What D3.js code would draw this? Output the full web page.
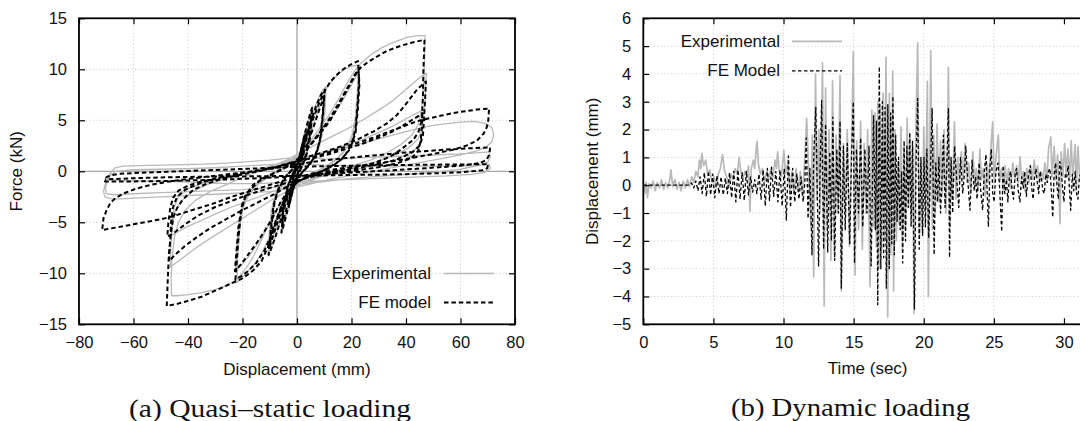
<!DOCTYPE html>
<html><head><meta charset="utf-8">
<script src="https://cdn.jsdelivr.net/npm/d3@7"></script>
<style>body{margin:0;background:#fff}svg{display:block}</style>
</head><body>
<svg id="c" width="1080" height="421"></svg>
<script>
// ---------- DATA ----------
const xTicksA = [-80,-60,-40,-20,0,20,40,60,80];
const yTicksA = [-15,-10,-5,0,5,10,15];
const xTicksB = [0,5,10,15,20,25,30];
const yTicksB = [-5,-4,-3,-2,-1,0,1,2,3,4,5,6];

// Quasi-static loading: FE model (displacement mm, force kN)
const feStage1 = [[0,0],[1.5,2.2],[3,3.6],[2.4,2.0],[1,0.4],[-0.5,-0.9],[-2,-2.4],[-3,-3.5],[-2.4,-2.0],[-1,-0.3],[0.5,1.0],[2,2.6],[3,3.5],[2.3,1.8],[0.8,0.3],[-0.8,-1.1],[-2.2,-2.6],[-3,-3.4],[-2.3,-1.9],[-0.8,-0.2]];
const feStage2 = [[0.5,1.0],[2,2.7],[3.5,4.4],[5,5.8],[5.6,6.3],[4.8,3.8],[3.5,1.8],[2,0.6],[0.5,-0.3],[-1,-1.3],[-2.5,-2.8],[-4,-4.4],[-5.2,-5.6],[-5.7,-6.0],[-5,-3.7],[-3.6,-1.7],[-2,-0.5],[-0.5,0.3],[1,1.3],[2.5,2.6],[4,4.0],[5.5,5.6],[4.8,3.3],[3.3,1.4],[1.5,0.3],[0,-0.4],[-1.5,-1.4],[-3,-2.8],[-4.5,-4.3],[-5.5,-5.4],[-4.8,-3.2],[-3.2,-1.3],[-1.5,-0.2]];
const feStage3 = [[0,0.6],[1.5,1.6],[3,3.0],[5,4.8],[7,6.4],[8.8,7.5],[10.2,8.0],[9.5,5.5],[8.6,3.2],[7,1.6],[4.5,0.6],[2,-0.1],[0,-0.7],[-2,-1.6],[-4,-3.0],[-6,-4.8],[-8,-6.5],[-9.5,-7.6],[-10.4,-8.2],[-9.6,-5.6],[-8.6,-3.3],[-7,-1.8],[-4.5,-0.6],[-2,0.1],[0,0.7],[2,1.6],[4,2.8],[6,4.3],[8,5.9],[9.5,7.0],[10,7.4],[9.2,5.0],[8.3,2.9],[6.5,1.4],[4,0.5],[1.5,-0.2],[-0.5,-0.8],[-2.5,-1.7],[-4.5,-3.0],[-6.5,-4.5],[-8.5,-6.1],[-10,-7.4],[-9.2,-5.0],[-8.2,-3.0],[-6.5,-1.6],[-4,-0.5],[-1.5,0.2]];
const feStage4 = [[0.5,0.9],[2,2.0],[4,3.6],[6,5.2],[8,6.6],[10,7.8],[12,8.7],[14,9.3],[16,9.8],[18,10.2],[20,10.5],[22.4,10.8],[22.8,9.0],[22.2,6.5],[21.5,4.2],[20,2.6],[17,1.3],[13,0.5],[9,0],[5,-0.4],[2,-0.8],[0,-1.1],[-2,-1.6],[-4,-2.4],[-6,-3.6],[-8,-5.0],[-10,-6.6],[-12,-7.8],[-15,-9.0],[-18,-9.8],[-20.5,-10.3],[-22.6,-10.6],[-22.3,-9.6],[-21.5,-6.5],[-20.5,-4.0],[-19,-2.4],[-16,-1.3],[-12,-0.6],[-8,-0.1],[-4,0.4],[-1,0.9],[1,1.4],[3,2.0],[6,2.9],[9,3.9],[12,4.9],[15,6.3],[18,7.8],[20.5,9.0],[22.6,10.0],[22.9,8.5],[22.3,6.0],[21.5,3.8],[19.5,2.2],[16,1.1],[12,0.4],[8,-0.1],[4,-0.5],[1,-0.9],[-1,-1.2],[-3,-1.8],[-6,-3.0],[-9,-4.6],[-12,-5.9],[-15,-7.1],[-18,-8.2],[-20.5,-9.1],[-22.8,-9.8],[-22.4,-8.5],[-21.5,-5.5],[-20.2,-3.3],[-18,-2.0],[-14,-1.0],[-10,-0.4],[-6,0.1],[-3,0.5],[-1,0.8]];
const feStage5 = [[1,1.2],[3,1.9],[6,3.0],[10,4.4],[13,5.6],[16,7.0],[19,8.4],[21.5,9.6],[23.5,10.2],[26,10.7],[29,11.2],[33,11.8],[38,12.3],[42,12.6],[46.8,12.9],[46.4,10],[46.2,7.2],[45.8,5.0],[44.5,3.8],[42.7,3.1],[38,2.1],[34,1.4],[28,0.8],[22,0.45],[16,0.1],[10,-0.2],[5,-0.5],[1,-0.9],[-2,-1.6],[-5,-3.0],[-8,-5.2],[-10.5,-7.3],[-13,-8.8],[-16,-9.7],[-20,-10.5],[-25,-11.1],[-30,-11.7],[-35,-12.3],[-40,-12.7],[-44,-13.0],[-47.8,-13.2],[-47.4,-10.5],[-47,-8.0],[-46.2,-6.0],[-45.5,-4.6],[-44,-3.6],[-42,-2.8],[-38,-1.8],[-33,-1.2],[-27,-0.7],[-20,-0.3],[-14,0],[-8,0.4],[-3,0.8],[0,1.0],[5,1.5],[10,1.9],[15.7,2.4],[22,3.1],[28,3.9],[33,4.7],[36.6,5.5],[40,6.6],[44,8.0],[47.3,8.8],[47,7.0],[46.6,5.0],[46.2,3.5],[45,2.5],[42,1.8],[36,1.1],[30,0.7],[22,0.3],[15,0],[8,-0.3],[2,-0.8],[-3,-1.4],[-8,-2.2],[-14,-3.0],[-20,-3.8],[-26,-4.7],[-32,-5.6],[-37,-6.5],[-41,-7.3],[-44,-8.0],[-47,-8.8],[-46.6,-7.0],[-46.2,-5.0],[-45.5,-3.5],[-44,-2.5],[-41,-1.8],[-35,-1.1],[-28,-0.6],[-20,-0.2],[-12,0.2],[-5,0.6],[0,1.0],[6,1.3],[12,1.7],[18,2.2],[24,2.7],[30,3.3],[35,3.9],[39,4.5],[42,5.0],[44.5,5.4],[46,5.7],[45.8,4.3],[45.4,3.0],[44.5,2.0],[42,1.3],[37,0.8],[30,0.4],[22,0.1],[14,-0.2],[6,-0.5],[0,-0.9],[-6,-1.3],[-12,-1.8],[-18,-2.3],[-24,-2.9],[-30,-3.5],[-36,-4.3],[-40,-5.0],[-43,-5.6],[-45.5,-6.1],[-47.6,-6.4],[-47.2,-5.0],[-46.5,-3.6],[-45.5,-2.6],[-43.5,-1.9],[-40,-1.4],[-35,-1.0],[-28,-0.6],[-20,-0.2],[-12,0.2],[-5,0.6],[0,0.9]];
const feStage6 = [[5,1.3],[12,1.9],[20,2.6],[28,3.3],[35,4.0],[40,4.5],[44,4.9],[47,5.1],[52,5.4],[57,5.7],[62,5.9],[66,6.05],[70.5,6.15],[70.2,5.0],[69.6,4.3],[68.5,3.7],[66,3.0],[62,2.5],[57,2.1],[50,1.7],[44,1.4],[38,1.1],[30,0.8],[22,0.5],[14,0.2],[6,-0.2],[0,-0.6],[-6,-1.0],[-12,-1.5],[-18,-2.0],[-24,-2.5],[-30,-3.1],[-36,-3.6],[-42,-4.1],[-46,-4.45],[-50,-4.7],[-55,-4.95],[-60,-5.2],[-65,-5.45],[-71.5,-5.75],[-71,-4.6],[-70,-3.9],[-68.5,-3.1],[-66.5,-2.6],[-63,-2.1],[-59,-1.7],[-54,-1.35],[-47,-1.0],[-40,-0.75],[-32,-0.5],[-24,-0.25],[-16,0],[-8,0.3],[0,0.7],[8,1.0],[16,1.25],[24,1.45],[32,1.65],[40,1.85],[48,2.0],[56,2.15],[63,2.25],[70.9,2.35],[70.5,1.6],[69.5,1.1],[67,0.8],[62,0.6],[55,0.45],[47,0.3],[38,0.15],[28,0],[18,-0.15],[8,-0.3],[0,-0.45],[-8,-0.6],[-16,-0.7],[-24,-0.78],[-32,-0.85],[-40,-0.9],[-48,-0.95],[-56,-0.98],[-63,-1.0],[-70.5,-1.0],[-70,-0.6],[-68.5,-0.4],[-65,-0.25],[-58,-0.15],[-48,-0.05],[-38,0.05],[-28,0.15],[-18,0.25],[-8,0.35],[0,0.45],[10,0.5],[20,0.55],[30,0.6],[40,0.62],[50,0.65],[60,0.67],[70.2,0.7],[69.8,0.3],[68,0.1],[60,-0.1],[50,-0.2],[40,-0.28],[30,-0.33],[20,-0.36],[10,-0.4],[0,-0.45],[-10,-0.48],[-20,-0.5],[-30,-0.52],[-40,-0.55],[-50,-0.6],[-60,-0.68],[-70.5,-0.8]];

// Quasi-static loading: Experimental
const expStage1 = [[0,0],[1.2,1.9],[2.8,3.8],[2.2,2.2],[0.8,0.6],[-0.8,-1.2],[-2.2,-2.6],[-2.9,-3.7],[-2.2,-2.0],[-0.8,-0.4],[0.8,1.3],[2.2,2.9],[3,3.8],[2.2,1.9],[0.6,0.3],[-1,-1.4],[-2.4,-2.9],[-3,-3.6],[-2.2,-1.8],[-0.6,-0.1]];
const expStage2 = [[0.8,1.3],[2.4,3.0],[4,4.8],[5.3,6.0],[5.8,6.4],[5.2,4.0],[4,2.2],[2.4,0.9],[0.8,-0.1],[-0.8,-1.1],[-2.4,-2.6],[-4,-4.2],[-5.3,-5.6],[-5.8,-6.1],[-5.2,-3.9],[-4,-2.0],[-2.4,-0.7],[-0.8,0.3],[0.8,1.4],[2.4,2.8],[4,4.3],[5.6,5.8],[5,3.5],[3.6,1.6],[1.8,0.4],[0.2,-0.4],[-1.4,-1.5],[-3,-3.0],[-4.6,-4.5],[-5.6,-5.6],[-5,-3.4],[-3.4,-1.5],[-1.6,-0.3]];
const expStage3 = [[0.2,0.8],[1.8,1.9],[3.4,3.3],[5.2,5.0],[7,6.6],[8.8,7.7],[10.6,8.3],[10.3,6.0],[9.6,4.0],[8,2.2],[5.5,1.0],[3,0.3],[0.5,-0.5],[-1.8,-1.5],[-3.8,-2.9],[-6,-4.8],[-8,-6.5],[-9.8,-7.8],[-10.6,-8.3],[-10.2,-6.0],[-9.4,-3.8],[-7.8,-2.1],[-5.2,-0.8],[-2.5,0.1],[0,0.8],[2,1.8],[4,3.0],[6,4.5],[8,6.1],[9.8,7.3],[10.4,7.6],[9.8,5.2],[8.8,3.2],[7,1.8],[4.5,0.7],[2,0],[-0.5,-0.7],[-2.6,-1.7],[-4.6,-3.1],[-6.6,-4.7],[-8.6,-6.3],[-10.3,-7.5],[-9.8,-5.2],[-8.8,-3.2],[-7,-1.8],[-4.4,-0.6],[-1.8,0.3]];
const expStage4 = [[0.6,1.2],[2.5,2.3],[4.5,3.9],[6.5,5.6],[8.5,7.0],[10.8,8.1],[13,8.9],[15.5,9.6],[18,10.1],[20,10.3],[22.3,10.4],[22.2,8.0],[21.5,5.5],[20.3,3.6],[18,2.2],[14,1.1],[10,0.4],[6,-0.1],[2.5,-0.6],[0,-1.1],[-2.5,-1.8],[-5,-3.0],[-7.5,-4.6],[-10,-6.4],[-12.5,-7.8],[-15,-8.9],[-18,-9.8],[-20.5,-10.5],[-22,-10.9],[-21.8,-8.6],[-21,-5.6],[-19.8,-3.6],[-17.5,-2.2],[-13.5,-1.1],[-9.5,-0.4],[-5.5,0.2],[-2,0.9],[1,1.6],[4,2.5],[7,3.4],[10,4.4],[13,5.4],[16,6.6],[19,8.0],[21.5,9.2],[22.7,9.6],[22.4,7.4],[21.6,5.0],[20.2,3.2],[17,1.8],[13,0.8],[9,0.2],[5,-0.3],[1.5,-0.9],[-1.5,-1.5],[-4.5,-2.5],[-8,-4.0],[-11,-5.5],[-14,-6.9],[-17,-8.1],[-20,-9.1],[-22.5,-9.8],[-22.2,-7.6],[-21.3,-5.0],[-19.8,-3.1],[-17,-1.9],[-13,-0.9],[-8.5,-0.1],[-4,0.7],[-1,1.3]];
const expStage5 = [[2,1.9],[5,3.0],[8.5,4.3],[12,5.6],[15.5,7.2],[18.5,8.7],[21,9.8],[23.5,10.6],[27,11.4],[31,12.1],[35,12.6],[40,13.1],[44,13.3],[47,13.3],[46.8,11.0],[46.5,8.5],[45.8,6.2],[44.5,4.6],[42,3.5],[38,2.6],[33,1.8],[27,1.1],[20,0.5],[13,0],[7,-0.5],[2,-1.2],[-2,-1.9],[-6,-3.2],[-10,-5.0],[-13.5,-7.0],[-16.5,-8.6],[-19.5,-9.8],[-22,-10.6],[-25,-11.1],[-30,-11.6],[-35,-11.9],[-40,-12.1],[-44,-12.2],[-46,-12.2],[-46.2,-10.5],[-45.8,-8.5],[-45,-6.5],[-43.5,-5.0],[-41,-3.8],[-37,-2.8],[-32,-2.0],[-26,-1.3],[-20,-0.6],[-14,0],[-8,0.6],[-3,1.2],[1,1.8],[6,2.5],[12,3.3],[18,4.1],[24,5.0],[30,6.0],[35,6.9],[39,7.8],[42.5,8.6],[45.5,9.3],[47.5,9.6],[47.2,7.8],[46.8,6.0],[46,4.3],[44.5,3.2],[41,2.3],[36,1.6],[30,1.0],[23,0.5],[16,0],[9,-0.5],[3,-1.1],[-2,-1.7],[-8,-2.6],[-14,-3.6],[-20,-4.6],[-26,-5.6],[-32,-6.6],[-37,-7.5],[-41,-8.3],[-44,-8.9],[-46.5,-9.4],[-46.3,-7.5],[-45.8,-5.5],[-44.8,-4.0],[-42.5,-2.9],[-38.5,-2.0],[-33,-1.3],[-26,-0.7],[-18,-0.1],[-10,0.5],[-3,1.1],[3,1.4],[10,1.9],[17,2.5],[24,3.1],[30,3.8],[35,4.4],[39,5.0],[42.5,5.5],[45.5,5.9],[46.3,5.0],[46,3.8],[45,2.7],[42.5,1.9],[37,1.2],[30,0.7],[22,0.2],[14,-0.2],[6,-0.7],[0,-1.2],[-6,-1.7],[-12,-2.3],[-18,-2.9],[-24,-3.5],[-30,-4.2],[-35,-4.8],[-40,-5.4],[-43.5,-5.9],[-46,-6.3],[-45.8,-4.9],[-45,-3.5],[-43.5,-2.5],[-40,-1.7],[-34,-1.1],[-27,-0.6],[-19,-0.1],[-11,0.4],[-4,0.9]];
const expStage6 = [[2,1.3],[10,1.8],[18,2.3],[26,2.9],[33,3.4],[40,3.9],[46,4.3],[51,4.55],[56,4.7],[61,4.85],[65,4.9],[69,4.7],[71.5,4.3],[72.2,3.6],[71.5,2.9],[69.5,2.4],[66,2.0],[60,1.6],[52,1.2],[44,0.8],[36,0.4],[28,0],[20,-0.4],[12,-0.8],[4,-1.3],[-3,-1.7],[-10,-2.0],[-18,-2.1],[-26,-2.2],[-34,-2.3],[-42,-2.4],[-50,-2.5],[-58,-2.6],[-64,-2.7],[-68,-2.7],[-70.5,-2.5],[-71,-2.0],[-70.5,-1.4],[-69.5,-0.8],[-68.5,-0.2],[-67,0.3],[-64,0.5],[-58,0.55],[-50,0.6],[-42,0.65],[-34,0.7],[-26,0.8],[-18,0.95],[-10,1.1],[-3,1.3],[3,1.5],[10,1.2],[20,1.3],[30,1.4],[40,1.5],[50,1.6],[60,1.7],[66,1.8],[70.5,1.9],[71,1.4],[70,0.9],[67,0.6],[60,0.2],[50,-0.1],[40,-0.3],[30,-0.5],[20,-0.7],[10,-1.0],[0,-1.3],[-10,-1.6],[-20,-1.8],[-30,-1.9],[-40,-2.0],[-50,-2.1],[-60,-2.2],[-67,-2.3],[-70,-2.2],[-70.3,-1.6],[-69.5,-0.9],[-68.5,-0.4],[-66.5,0],[-60,0.15],[-50,0.2],[-40,0.25],[-30,0.35],[-20,0.5],[-10,0.65],[0,0.8],[10,0.6],[20,0.55],[30,0.5],[40,0.5],[50,0.5],[60,0.5],[66,0.6],[70.5,0.7],[71,0.3],[69,-0.1],[64,-0.3],[55,-0.45],[45,-0.55],[35,-0.65],[25,-0.75],[15,-0.85],[5,-1.0],[-5,-1.1],[-15,-1.2],[-25,-1.2],[-35,-1.1],[-45,-1.0],[-55,-0.95],[-65,-0.9],[-70,-0.8]];

// Dynamic loading: [time s, displacement mm]
const expDynamic = [[0,0],[0.1,-0.3],[0.2,0.1],[0.3,-0.45],[0.4,0.05],[0.55,-0.1],[0.7,0.15],[0.85,-0.2],[1.0,0.1],[1.15,-0.1],[1.3,0.2],[1.45,-0.15],[1.6,0.1],[1.75,-0.1],[1.9,0.25],[1.97,0.55],[2.1,-0.05],[2.25,0.2],[2.4,-0.15],[2.55,0.1],[2.7,-0.2],[2.85,0.15],[3.0,-0.1],[3.15,0.2],[3.3,-0.05],[3.45,0.3],[3.6,0.1],[3.75,0.5],[3.9,0.3],[4.0,0.9],[4.1,0.6],[4.17,1.15],[4.3,0.7],[4.45,0.9],[4.6,0.4],[4.75,0.55],[4.9,0.1],[5.05,0.3],[5.2,-0.1],[5.35,0.4],[5.5,0.6],[5.65,1.1],[5.8,0.5],[5.95,0.3],[6.1,-0.1],[6.25,0.4],[6.4,0.2],[6.55,0.6],[6.7,0.4],[6.83,1.0],[6.95,0.5],[7.1,0.2],[7.25,0.5],[7.4,0.3],[7.5,0.7],[7.61,-0.94],[7.7,0.6],[7.85,0.9],[7.95,0.6],[8.05,1.3],[8.11,1.58],[8.2,0.8],[8.35,0.4],[8.5,0.6],[8.65,0.1],[8.8,0.5],[8.95,0.2],[9.1,0.6],[9.25,0.3],[9.4,0.9],[9.5,0.6],[9.58,1.2],[9.7,0.5],[9.85,0.3],[10.02,1.25],[10.15,0.4],[10.3,0.8],[10.45,-0.2],[10.6,0.5],[10.75,-0.3],[10.9,0.6],[11.05,-0.2],[11.2,0.5],[11.35,-0.4],[11.5,0.8],[11.65,2.4],[11.8,0.5],[11.95,-1.5],[12.05,1.8],[12.15,-3.3],[12.28,4.0],[12.4,-0.5],[12.52,2.0],[12.62,-1.0],[12.78,4.4],[12.9,-4.34],[13.0,3.5],[13.12,-1.5],[13.25,2.0],[13.38,-2.7],[13.5,3.75],[13.62,-2.5],[13.75,1.8],[13.88,-1.0],[14.03,3.94],[14.12,-3.8],[14.28,1.5],[14.4,-1.0],[14.55,2.0],[14.7,-2.2],[14.85,1.3],[14.98,4.8],[15.1,-3.23],[15.22,1.6],[15.35,-1.6],[15.5,2.3],[15.62,-2.3],[15.75,1.5],[15.88,-1.0],[16.0,2.0],[16.17,-3.65],[16.3,2.7],[16.42,-1.5],[16.52,2.6],[16.62,-2.2],[16.72,3.0],[16.8,-3.0],[16.9,2.9],[17.0,-2.3],[17.1,3.3],[17.2,-2.0],[17.31,4.6],[17.43,-4.73],[17.55,3.3],[17.65,-2.5],[17.79,4.1],[17.85,-3.8],[17.95,2.0],[18.05,-2.0],[18.15,0.8],[18.25,-1.4],[18.38,2.1],[18.48,-2.4],[18.58,1.3],[18.7,-1.6],[18.82,2.4],[18.92,-0.8],[19.02,1.8],[19.12,-1.0],[19.22,1.4],[19.3,-4.6],[19.42,1.5],[19.57,5.12],[19.68,-1.8],[19.8,0.8],[19.9,-1.7],[20.0,2.1],[20.12,-0.9],[20.26,3.73],[20.33,-4.0],[20.42,0.5],[20.5,4.84],[20.62,-1.6],[20.72,1.8],[20.82,-1.0],[20.95,2.2],[21.08,-0.6],[21.2,1.6],[21.32,-0.4],[21.45,2.0],[21.58,-1.0],[21.7,1.5],[21.76,4.24],[21.85,-1.5],[21.95,0.8],[22.05,-0.4],[22.19,2.28],[22.3,-0.5],[22.42,1.0],[22.55,0.1],[22.68,1.2],[22.8,0.2],[22.95,1.5],[23.08,0.1],[23.2,0.8],[23.35,-0.3],[23.5,1.2],[23.62,0.2],[23.75,0.6],[23.88,-0.2],[24.0,1.3],[24.12,0.2],[24.25,0.6],[24.38,-0.4],[24.5,0.8],[24.62,0.1],[24.78,1.3],[24.92,2.28],[25.02,0.1],[25.15,1.0],[25.32,1.8],[25.42,0.1],[25.55,0.6],[25.68,-0.2],[25.8,0.7],[25.92,0.1],[26.05,0.6],[26.2,-0.1],[26.35,0.8],[26.5,0.2],[26.62,0.7],[26.75,0.1],[26.87,1.02],[26.98,0.2],[27.1,0.5],[27.22,-0.2],[27.35,0.6],[27.5,0.1],[27.62,0.7],[27.75,0.2],[27.88,0.9],[28.0,0.3],[28.12,0.7],[28.25,0.1],[28.38,0.5],[28.5,0.2],[28.65,0.8],[28.78,0.1],[28.9,1.3],[29.06,1.74],[29.15,0.3],[29.3,1.4],[29.42,0.2],[29.55,1.1],[29.72,-1.38],[29.8,1.2],[29.92,0.3],[30.05,1.5],[30.15,0.4],[30.28,1.3],[30.4,0.2],[30.52,1.6],[30.62,0.3],[30.8,1.46],[30.88,-0.2],[31.0,1.4],[31.12,0.2],[31.25,0.9],[31.38,-0.3],[31.5,0.6],[31.65,0.1],[31.8,0.8],[32,0.2]];
const feDynamic = [[0,0],[3.3,0],[3.45,0.08],[3.6,-0.1],[3.75,0.15],[3.9,-0.2],[4.05,0.3],[4.2,-0.3],[4.35,0.45],[4.5,-0.4],[4.65,0.5],[4.8,-0.35],[4.95,0.4],[5.1,-0.45],[5.25,0.35],[5.4,-0.3],[5.55,0.3],[5.7,-0.35],[5.85,0.25],[6.0,-0.3],[6.15,0.45],[6.3,-0.45],[6.45,0.5],[6.6,-0.6],[6.75,0.55],[6.9,-0.5],[7.05,0.45],[7.2,-0.55],[7.35,0.5],[7.5,-0.35],[7.65,0.3],[7.8,-0.25],[7.95,0.2],[8.1,-0.3],[8.25,0.4],[8.4,-0.5],[8.55,0.55],[8.7,-0.75],[8.85,0.6],[9.0,-0.55],[9.15,0.65],[9.3,-0.4],[9.45,0.5],[9.6,-0.6],[9.75,0.55],[9.9,-0.75],[10.05,0.6],[10.2,-1.25],[10.35,1.05],[10.5,-0.8],[10.65,0.6],[10.8,-0.6],[10.95,0.4],[11.1,-0.5],[11.25,0.3],[11.4,-0.6],[11.52,0.1],[11.62,1.7],[11.75,-1.2],[11.88,0.6],[12.03,-2.5],[12.15,1.0],[12.3,2.8],[12.5,-2.9],[12.6,0.4],[12.72,3.05],[12.86,-2.3],[13.0,2.2],[13.15,-2.4],[13.3,1.2],[13.42,-2.0],[13.52,2.45],[13.65,-2.7],[13.8,1.3],[13.92,-1.0],[14.03,2.3],[14.12,-3.7],[14.27,1.4],[14.4,-1.6],[14.55,1.5],[14.72,-2.1],[14.85,1.0],[14.98,3.0],[15.06,-2.8],[15.2,1.3],[15.35,-1.0],[15.5,1.7],[15.65,-1.5],[15.8,1.3],[15.95,-1.0],[16.1,1.4],[16.25,-2.9],[16.42,2.5],[16.55,-1.6],[16.63,2.3],[16.72,-4.3],[16.83,4.26],[16.94,-3.0],[17.05,3.0],[17.14,-2.6],[17.24,2.8],[17.33,-3.7],[17.44,2.9],[17.54,-3.0],[17.64,2.6],[17.72,-2.1],[17.8,3.2],[17.9,-2.5],[18.0,1.8],[18.1,-1.3],[18.2,1.0],[18.32,-1.6],[18.42,0.5],[18.5,-2.8],[18.6,1.6],[18.7,-2.0],[18.8,1.4],[18.9,-0.8],[19.0,1.9],[19.1,-1.5],[19.2,1.6],[19.34,-4.45],[19.46,1.0],[19.57,3.12],[19.68,-2.3],[19.8,1.0],[19.92,-1.8],[20.02,1.0],[20.12,-1.5],[20.22,1.3],[20.35,-1.9],[20.48,0.6],[20.6,2.75],[20.74,-2.5],[20.86,0.8],[20.98,-0.6],[21.08,1.0],[21.2,-1.0],[21.3,0.2],[21.4,1.8],[21.52,-0.8],[21.64,0.6],[21.76,2.77],[21.84,-2.6],[21.95,1.0],[22.06,-1.0],[22.2,1.4],[22.35,0.2],[22.5,-0.8],[22.62,1.0],[22.78,-0.3],[22.9,0.4],[23.0,1.4],[23.15,0.1],[23.3,-0.9],[23.45,0.9],[23.6,-0.2],[23.7,0.3],[23.8,-0.5],[23.95,0.8],[24.08,-0.3],[24.2,-0.9],[24.32,0.5],[24.44,1.1],[24.52,-0.2],[24.61,-1.5],[24.72,0.6],[24.82,1.3],[24.92,-0.3],[25.02,-0.6],[25.15,0.5],[25.3,0.8],[25.42,-0.2],[25.56,-1.67],[25.66,0.7],[25.78,-0.3],[25.9,0.2],[26.0,-0.6],[26.1,0.3],[26.2,0.5],[26.3,-0.2],[26.4,-0.5],[26.52,0.4],[26.62,0.6],[26.74,-0.2],[26.86,-0.6],[26.98,0.3],[27.1,-0.1],[27.2,0.5],[27.32,-0.4],[27.45,0.3],[27.6,0.7],[27.7,-0.1],[27.8,-0.5],[27.9,0.3],[28.0,0.6],[28.1,0.1],[28.2,-0.3],[28.3,0.5],[28.4,0.2],[28.5,-0.2],[28.6,-0.3],[28.7,0.4],[28.82,0.1],[28.9,0.5],[29.0,0.6],[29.1,-0.2],[29.2,-1.15],[29.3,0.4],[29.4,0.8],[29.5,0],[29.6,-0.5],[29.7,0.85],[29.8,0.6],[29.9,-0.1],[30.0,-0.6],[30.1,0.4],[30.2,0.3],[30.3,0.7],[30.4,-0.2],[30.48,-0.9],[30.6,0.4],[30.7,-0.2],[30.8,0.5],[30.9,-0.3],[31.0,-0.5],[31.1,0.3],[31.2,0.4],[31.3,-0.3],[31.4,0.2],[31.5,-0.2],[31.6,0.3],[31.7,-0.4],[31.8,0.2],[31.9,-0.3],[32,0.1]];

const feQuasi = [].concat(feStage1, feStage2, feStage3, feStage4, feStage5, feStage6);
const expQuasi = [].concat(expStage1, expStage2, expStage3, expStage4, expStage5, expStage6);

// ---------- DRAW ----------
const svg = d3.select("#c");
const SANS = "'Liberation Sans', Arial, sans-serif";
const SERIF = "'Liberation Serif', 'Times New Roman', serif";
const GREY = "#b9b9b9";

function panel(id, xs, ys, xt, yt, opts) {
  const [x0, x1] = xs.range(), [y0, y1] = ys.range();
  const g = svg.append("g");
  g.append("clipPath").attr("id", id).append("rect")
    .attr("x", x0).attr("y", y1).attr("width", x1 - x0).attr("height", y0 - y1);
  const grid = g.append("g").attr("stroke", "#c4c4c4").attr("stroke-width", 0.9).attr("stroke-dasharray", "1,2.5");
  grid.selectAll(".gx").data(xt.slice(1, -1)).join("line")
    .attr("x1", d => xs(d)).attr("x2", d => xs(d)).attr("y1", y0).attr("y2", y1);
  grid.selectAll(".gy").data(yt.slice(1, -1)).join("line")
    .attr("y1", d => ys(d)).attr("y2", d => ys(d)).attr("x1", x0).attr("x2", x1);
  if (opts.zeroAxes) {
    g.append("line").attr("x1", xs(0)).attr("x2", xs(0)).attr("y1", y0).attr("y2", y1).attr("stroke", "#a8a8a8").attr("stroke-width", 1.3);
    g.append("line").attr("y1", ys(0)).attr("y2", ys(0)).attr("x1", x0).attr("x2", x1).attr("stroke", "#a8a8a8").attr("stroke-width", 1.3);
  }
  const data = g.append("g").attr("clip-path", `url(#${id})`);
  const fmt = d3.format("d");
  const ax = (gen, tr, labels) => {
    const a = g.append("g").attr("transform", tr).call(gen.tickSizeInner(-6).tickSizeOuter(0).tickPadding(12).tickFormat(labels ? fmt : () => ""));
    a.select(".domain").remove();
    a.selectAll(".tick line").attr("stroke", "#000").attr("stroke-width", 1.2);
    a.selectAll("text").style("font-family", SANS).attr("font-size", 16.5).attr("fill", "#111");
    return a;
  };
  ax(d3.axisBottom(xs).tickValues(xt), `translate(0,${y0})`, true);
  ax(d3.axisTop(xs).tickValues(xt), `translate(0,${y1})`, false);
  ax(d3.axisLeft(ys).tickValues(yt), `translate(${x0},0)`, true);
  ax(d3.axisRight(ys).tickValues(yt), `translate(${x1},0)`, false);
  g.append("rect").attr("x", x0).attr("y", y1).attr("width", x1 - x0).attr("height", y0 - y1)
    .attr("fill", "none").attr("stroke", "#000").attr("stroke-width", 1.8);
  return data;
}

// Panel (a)
const xA = d3.scaleLinear([-80, 80], [79, 515]);
const yA = d3.scaleLinear([-15, 15], [324.3, 18.3]);
const dA = panel("clipA", xA, yA, xTicksA, yTicksA, {zeroAxes: true});
const lineA = d3.line().x(d => xA(d[0])).y(d => yA(d[1]));
dA.append("path").attr("d", lineA(expQuasi)).attr("fill", "none").attr("stroke", GREY).attr("stroke-width", 1.3).attr("stroke-linejoin", "round");
dA.append("path").attr("d", lineA(feQuasi)).attr("fill", "none").attr("stroke", "#000").attr("stroke-width", 2).attr("stroke-dasharray", "4.5,2.9").attr("stroke-linejoin", "round");

// Panel (b)
const xB = d3.scaleLinear([0, 32], [643.3, 1092]);
const yB = d3.scaleLinear([-5, 6], [324.3, 18.3]);
const dB = panel("clipB", xB, yB, xTicksB, yTicksB, {zeroAxes: false});
const lineB = d3.line().x(d => xB(d[0])).y(d => yB(d[1]));
dB.append("path").attr("d", lineB(expDynamic)).attr("fill", "none").attr("stroke", GREY).attr("stroke-width", 1.7).attr("stroke-linejoin", "round");
dB.append("path").attr("d", lineB(feDynamic)).attr("fill", "none").attr("stroke", "#000").attr("stroke-width", 1.3).attr("stroke-dasharray", "3.5,2.5").attr("stroke-linejoin", "round");

// Axis titles
const txt = (x, y, s, size, fam, rot) => {
  const t = svg.append("text").attr("x", x).attr("y", y).attr("text-anchor", "middle")
    .attr("dominant-baseline", "central").style("font-family", fam).attr("font-size", size).attr("fill", "#111").text(s);
  if (rot) t.attr("transform", `rotate(-90,${x},${y})`);
  return t;
};
txt(16.5, 171.3, "Force (kN)", 17, SANS, true);
txt(297, 369, "Displacement (mm)", 17, SANS, false);
txt(593, 171.3, "Displacement (mm)", 17, SANS, true);
txt(867.7, 368, "Time (sec)", 17, SANS, false);

// Captions
txt(270, 408, "(a) Quasi\u2013static loading", 26, SERIF, false).attr("textLength", 282).attr("lengthAdjust", "spacingAndGlyphs");
txt(850.5, 407.5, "(b) Dynamic loading", 26, SERIF, false).attr("textLength", 239).attr("lengthAdjust", "spacingAndGlyphs");

// Legends
function legend(xEnd, y, label, dashed, width, x1, x2) {
  svg.append("text").attr("x", xEnd).attr("y", y).attr("text-anchor", "end").attr("dominant-baseline", "central")
    .style("font-family", SANS).attr("font-size", 17).attr("fill", "#111").text(label);
  const l = svg.append("line").attr("x1", x1).attr("x2", x2).attr("y1", y).attr("y2", y)
    .attr("stroke", dashed ? "#000" : GREY).attr("stroke-width", width);
  if (dashed) l.attr("stroke-dasharray", dashed);
}
legend(431, 273.5, "Experimental", null, 1.3, 444, 494);
legend(431, 302.5, "FE model", "4.5,2.9", 2, 444, 494);
legend(780, 41.3, "Experimental", null, 1.7, 792, 842);
legend(780, 70.8, "FE Model", "3.5,2.5", 1.3, 792, 842);
</script>
</body></html>
